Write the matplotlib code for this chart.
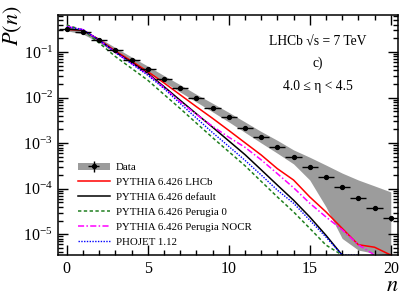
import numpy as np
import matplotlib
matplotlib.use("Agg")
import matplotlib.pyplot as plt
from matplotlib.patches import Patch
from matplotlib.legend_handler import HandlerTuple
from matplotlib.ticker import LogLocator, MultipleLocator, NullFormatter

plt.rcParams['font.family'] = ['Liberation Serif', 'DejaVu Serif']
plt.rcParams['mathtext.fontset'] = 'stix'

# multiplicity bins
n = np.arange(21)

data = [0.32, 0.27, 0.18, 0.109, 0.068, 0.042, 0.026, 0.016, 0.0096, 0.006, 0.0037,
        0.0022, 0.00133, 8.3e-4, 5.0e-4, 3.0e-4, 1.8e-4, 1.07e-4, 6.3e-5, 3.8e-5, 2.25e-5]
data_relerr = [0.01, 0.01, 0.01, 0.01, 0.01, 0.01, 0.02, 0.02, 0.02, 0.03, 0.03,
               0.04, 0.04, 0.05, 0.06, 0.06, 0.07, 0.08, 0.09, 0.10, 0.11]
band_hi = [0.351, 0.297, 0.203, 0.125, 0.0778, 0.049, 0.0304, 0.0191, 0.0118, 0.0075, 0.00473,
           0.00292, 0.0018, 0.00115, 7.1e-4, 4.9e-4, 3.3e-4, 2.2e-4, 1.55e-4, 1.15e-4, 8.5e-5]
band_lo = [0.292, 0.247, 0.161, 0.0948, 0.059, 0.0355, 0.022, 0.0132, 0.008, 0.00485, 0.00292,
           0.00172, 0.00101, 6.0e-4, 3.5e-4, 1.55e-4, 4.0e-5, 8.1e-6, 4.5e-6, 3.8e-6, 0]

# generator predictions (0 = empty bin, drawn on the axis floor; nan = not drawn)
nan = np.nan
pythia_lhcb = [0.31, 0.30, 0.186, 0.105, 0.063, 0.037, 0.021, 0.0115, 0.0063, 0.0035, 0.0019,
               0.00102, 5.5e-4, 2.75e-4, 1.55e-4, 6.6e-5, 3.1e-5, 1.35e-5, 5.9e-6, 5.2e-6, 0]
pythia_default = [0.32, 0.30, 0.182, 0.100, 0.059, 0.034, 0.0174, 0.0087, 0.0044, 0.00224, 0.00112,
                  5.6e-4, 2.6e-4, 1.2e-4, 5.6e-5, 2.4e-5, 9.5e-6, 0, nan, nan, nan]
perugia0 = [0.389, 0.302, 0.158, 0.0794, 0.0437, 0.024, 0.0117, 0.00575, 0.00275, 0.00132, 6.5e-4,
            3.2e-4, 1.45e-4, 6.6e-5, 3.1e-5, 1.35e-5, 5.8e-6, 0, nan, nan, nan]
perugia_nocr = [0.363, 0.309, 0.182, 0.0977, 0.0562, 0.0324, 0.0166, 0.0081, 0.00427, 0.00234, 0.00135,
                8.1e-4, 4.3e-4, 2.14e-4, 1.05e-4, 4.8e-5, 2.4e-5, 1.26e-5, 5.9e-6, 0, nan]
phojet = [0.355, 0.309, 0.182, 0.0977, 0.055, 0.0309, 0.0158, 0.0074, 0.00355, 0.0017, 8.5e-4,
          4.2e-4, 2.0e-4, 9.3e-5, 4.8e-5, 2.04e-5, 8.7e-6, 0, 0, nan, nan]

YMIN, YMAX = 3.5e-6, 0.65


def floor(v):
    v = np.asarray(v, dtype=float)
    return np.where(v == 0, YMIN, v)


fig = plt.figure(figsize=(4.19, 3.04), dpi=100)
ax = fig.add_axes([0.138, 0.161, 0.812, 0.790])

band_col = '#9c9c9c'
ax.fill_between(n, floor(band_lo), band_hi, color=band_col, lw=0, zorder=1)

models = [
    (pythia_lhcb, 'PYTHIA 6.426 LHCb', dict(color='#ff0000', ls='-', lw=1.1)),
    (pythia_default, 'PYTHIA 6.426 default', dict(color='black', ls='-', lw=1.1)),
    (perugia0, 'PYTHIA 6.426 Perugia 0', dict(color='#1f7f1f', ls=(0, (2.2, 1.6)), lw=1.1)),
    (perugia_nocr, 'PYTHIA 6.426 Perugia NOCR', dict(color='#ff00ff', ls=(0, (4, 1.5, 1, 1.5)), lw=1.1)),
    (phojet, 'PHOJET 1.12', dict(color='#0000ff', ls=(0, (1, 1)), lw=1.0)),
]
handles = []
for vals, lab, st in models:
    h, = ax.plot(n, floor(vals), label=lab, zorder=2, **st)
    handles.append(h)

data = np.asarray(data)
eb = ax.errorbar(n, data, xerr=0.5, yerr=data * np.asarray(data_relerr), fmt='o', color='black',
                 ms=2.8, lw=1.0, capsize=0, zorder=3)

ax.set_yscale('log')
ax.set_xlim(-0.55, 20.45)
ax.set_ylim(YMIN, YMAX)

ax.xaxis.set_major_locator(MultipleLocator(5))
ax.xaxis.set_minor_locator(MultipleLocator(1))
ax.yaxis.set_major_locator(LogLocator(base=10, numticks=20))
ax.yaxis.set_minor_locator(LogLocator(base=10, subs=np.arange(2, 10), numticks=20))
ax.yaxis.set_minor_formatter(NullFormatter())

ax.tick_params(which='both', direction='in', top=True, right=True, width=1.0, labelsize=11.5)
ax.tick_params(which='major', length=7)
ax.tick_params(which='minor', length=3.5)
ax.tick_params(axis='x', pad=4)
for s in ax.spines.values():
    s.set_linewidth(1.1)

ax.set_ylabel('$P(n)$', fontsize=16, loc='top')
ax.yaxis.set_label_coords(-0.1, 1.04)
ax.set_xlabel('$n$', fontsize=16, loc='right', labelpad=0)

tx = dict(transform=ax.transAxes, ha='center', va='center', fontsize=9.8)
ax.text(0.765, 0.885, 'LHCb \u221as = 7 TeV', **tx)
ax.text(0.765, 0.80, 'c)', **tx)
ax.text(0.765, 0.70, '4.0 \u2264 \u03b7 < 4.5', **tx)

data_handle = (Patch(facecolor=band_col, edgecolor='none'), eb)
ax.legend([data_handle] + handles, ['Data'] + [m[1] for m in models],
          handler_map={tuple: HandlerTuple(ndivide=1)},
          loc='upper left', bbox_to_anchor=(0.058, 0.385), frameon=False,
          fontsize=7.8, handlelength=2.95, handletextpad=0.6, labelspacing=0.5,
          borderpad=0, borderaxespad=0)

fig.savefig('out.png', dpi=100)
